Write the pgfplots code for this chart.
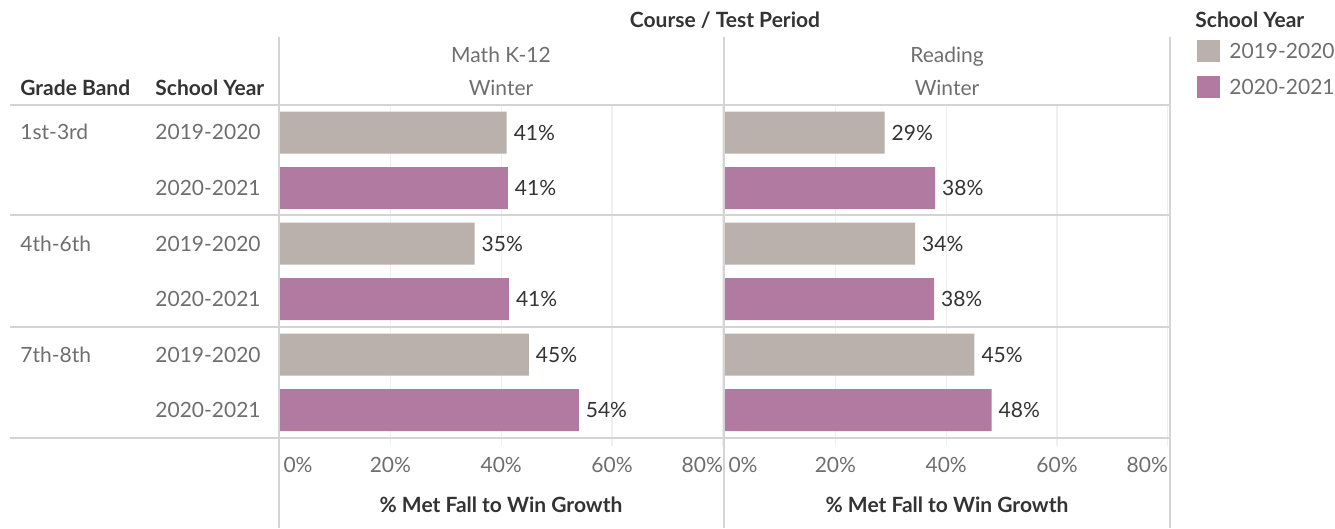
\documentclass[border=0pt]{standalone}
\usepackage{pgfplots}
\pgfplotsset{compat=1.18}
\usepackage{pgfplotstable}
\usepackage{fontspec}
\setmainfont{Lato}

\definecolor{gry}{HTML}{BAB0AC}
\definecolor{prp}{HTML}{B07AA1}
\definecolor{hdr}{HTML}{333333}
\definecolor{lbl}{HTML}{6E6E6E}
\definecolor{rulec}{HTML}{D4D4D4}
\definecolor{gridc}{HTML}{EFEFEF}

\newcommand\fs{\fontsize{10.5}{12}\selectfont}

% rows: 1..6 top to bottom (grade band x school year)
\pgfplotstableread{
y math reading
1 41.0 28.9
3 35.2 34.4
5 45.0 45.1
}\yearA
\pgfplotstableread{
y math reading
2 41.2 38.0
4 41.4 37.8
6 54.0 48.2
}\yearB

\pgfplotsset{
  panel/.style={
    xbar, bar width=21pt, bar shift=0pt,
    scale only axis, width=222.25pt, height=166.5pt,
    anchor=south west,
    xmin=0, xmax=80.2, ymin=0.5, ymax=6.5, y dir=reverse,
    ytick=\empty, axis line style={draw=none},
    xtick={0,20,40,60,80},
    xticklabels={\rlap{\hspace{2pt}0\%},20\%,40\%,60\%,\llap{80\%}},
    xtick pos=left, tick align=outside, major tick length=4pt,
    xmajorgrids, grid style={gridc, line width=0.6pt},
    major tick style={gridc, line width=0.6pt},
    xticklabel style={font=\fs, text=lbl, yshift=-2pt},
    clip=false,
    point meta=x,
    /pgf/number format/assume math mode=true,
    nodes near coords={\pgfmathprintnumber[fixed,precision=0,assume math mode=true]{\pgfplotspointmeta}\%},
    nodes near coords style={font=\fs, text=hdr, anchor=west},
  },
}
\tikzset{tx/.style={font=\fs, inner sep=0pt, text height=7.5pt, text depth=0pt}}

\begin{document}
\begin{tikzpicture}
\begin{axis}[panel, at={(139.75pt,45pt)}]
  \addplot[fill=gry, draw=none] table[x=math, y=y] {\yearA};
  \addplot[fill=prp, draw=none] table[x=math, y=y] {\yearB};
\end{axis}
\begin{axis}[panel, at={(362.25pt,45pt)}]
  \addplot[fill=gry, draw=none] table[x=reading, y=y] {\yearA};
  \addplot[fill=prp, draw=none] table[x=reading, y=y] {\yearB};
\end{axis}

\begin{scope}[x=0.5pt, y=0.5pt]
  \path (0,0) rectangle (1335,528);
  % frame lines
  \draw[rulec, line width=1pt] (279,491) -- (279,0);
  \draw[rulec, line width=1pt] (724,491) -- (724,0);
  \draw[rulec, line width=1pt] (1170,491) -- (1170,0);
  \foreach \yy in {423,313,201,90}
    \draw[rulec, line width=1pt] (10,\yy) -- (1170,\yy);

  % column headers
  \node[tx, text=hdr, font=\fs\bfseries] at (725,508) {Course / Test Period};
  \node[tx, text=lbl] at (501,473) {Math K-12};
  \node[tx, text=lbl] at (501,440) {Winter};
  \node[tx, text=lbl] at (947,473) {Reading};
  \node[tx, text=lbl] at (947,440) {Winter};
  \node[tx, text=hdr, font=\fs\bfseries, anchor=west] at (20,440) {Grade Band};
  \node[tx, text=hdr, font=\fs\bfseries, anchor=west] at (155,440) {School Year};

  % row headers
  \node[tx, text=lbl, anchor=west] at (20,396) {1st-3rd};
  \node[tx, text=lbl, anchor=west] at (20,284) {4th-6th};
  \node[tx, text=lbl, anchor=west] at (20,173) {7th-8th};
  \foreach \yy/\lab in {396/2019-2020,340/2020-2021,284/2019-2020,229/2020-2021,173/2019-2020,118/2020-2021}
    \node[tx, text=lbl, anchor=west] at (155,\yy) {\lab};

  % axis titles
  \node[tx, text=hdr, font=\fs\bfseries] at (501,23) {\% Met Fall to Win Growth};
  \node[tx, text=hdr, font=\fs\bfseries] at (947,23) {\% Met Fall to Win Growth};

  % legend
  \node[tx, text=hdr, font=\fs\bfseries, anchor=west] at (1195,508) {School Year};
  \fill[gry] (1197,488) rectangle (1220,466);
  \fill[prp] (1197,452) rectangle (1220,430);
  \node[tx, text=lbl, anchor=west] at (1229,477) {2019-2020};
  \node[tx, text=lbl, anchor=west] at (1229,441) {2020-2021};
\end{scope}
\end{tikzpicture}
\end{document}
